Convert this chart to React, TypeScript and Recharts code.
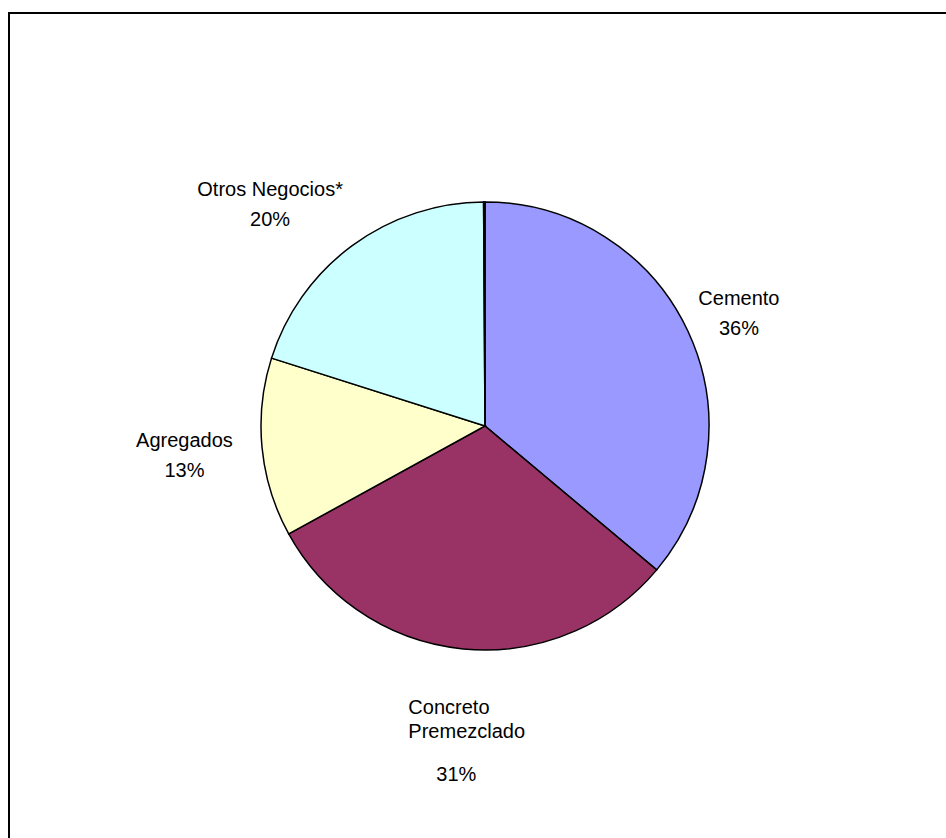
import { PieChart, Pie, Cell } from "recharts";

// segment shares (%), clockwise from 12 o'clock
const segments = ["Cemento", "Concreto Premezclado", "Agregados", "Otros Negocios*", ""];
const shares = [36.1, 30.9, 12.9, 20.0, 0.1];
const colors = ["#9999FF", "#993366", "#FFFFCC", "#CCFFFF", "#000000"];

// label placement: distance from centre and a small clockwise turn off the mid angle
const labelDist = [278, 315, 302, 309, 0];
const labelTurn = [1, 0, 0, -7.7, 0];

const data = segments.map((name, i) => ({ name, value: shares[i] }));

const RADIAN = Math.PI / 180;
const FONT = "'Liberation Sans', Arial, sans-serif";

function renderLabel(props: any) {
  const { cx, cy, midAngle, percent, index } = props;
  if (!segments[index]) return null;
  const r = labelDist[index];
  const ang = (midAngle - labelTurn[index]) * RADIAN;
  const x = cx + r * Math.cos(-ang);
  const y = cy + r * Math.sin(-ang);
  const pct = `${Math.round(percent * 100)}%`;
  const common = { fill: "#000", fontSize: 20, fontFamily: FONT, dominantBaseline: "central" as const };

  if (index === 1) {
    const [a, b] = segments[index].split(" ");
    return (
      <g key={`lbl-${index}`}>
        <text x={x - 46} y={y - 33} textAnchor="start" {...common}>{a}</text>
        <text x={x - 46} y={y - 9} textAnchor="start" {...common}>{b}</text>
        <text x={x + 2} y={y + 34} textAnchor="middle" {...common}>{pct}</text>
      </g>
    );
  }
  return (
    <g key={`lbl-${index}`}>
      <text x={x} y={y - 15} textAnchor="middle" {...common}>{segments[index]}</text>
      <text x={x} y={y + 15} textAnchor="middle" {...common}>{pct}</text>
    </g>
  );
}

export default function App() {
  return (
    <div style={{ position: "absolute", left: 0, top: 0, width: 946, height: 838, background: "#fff", overflow: "hidden" }}>
      <div
        style={{
          position: "absolute",
          left: 8,
          top: 12,
          width: 960,
          height: 860,
          borderTop: "2px solid #000",
          borderLeft: "2px solid #000",
        }}
      />
      <div style={{ position: "absolute", left: 0, top: 0 }}>
        <PieChart width={946} height={838}>
          <Pie
            data={data}
            dataKey="value"
            nameKey="name"
            cx={480}
            cy={421}
            outerRadius={224}
            startAngle={90}
            endAngle={-270}
            stroke="#000"
            strokeWidth={1.5}
            label={renderLabel}
            labelLine={false}
            isAnimationActive={false}
          >
            {data.map((d, i) => (
              <Cell key={d.name + i} fill={colors[i]} />
            ))}
          </Pie>
        </PieChart>
      </div>
    </div>
  );
}
